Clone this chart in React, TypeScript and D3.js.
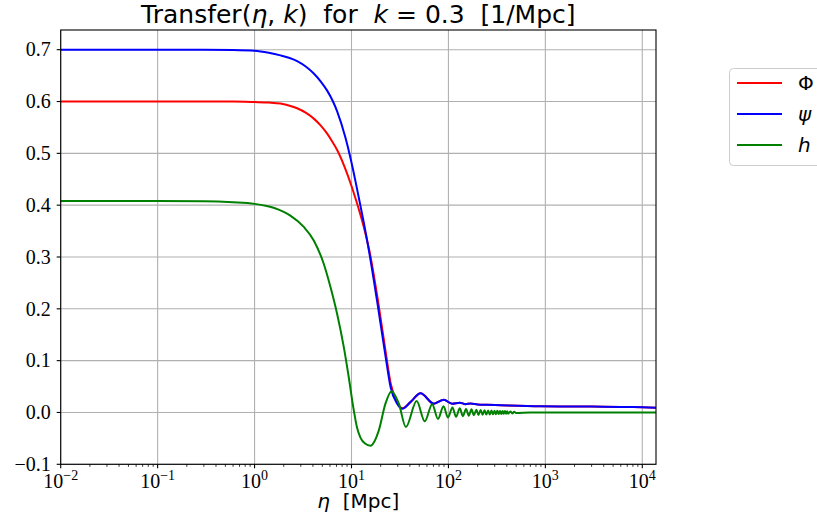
import React from 'react';
import * as d3 from 'd3';

const W = 817;
const H = 527;
const PL = 60.7, PR = 656, PT = 30, PB = 464.3;

// Data (eta in Mpc)
const phiEta = [0.01, 0.3, 0.6, 1, 1.4, 1.85, 2.3, 2.75, 3.4, 4.08, 4.8, 5.61, 6.3, 7.11, 8.4, 10, 11, 12, 13.4, 15.3, 18.9, 22.8, 25.3, 29.6, 33.4, 40.6, 51.6, 70.8, 89.6, 109, 131, 150, 170, 200, 250, 345, 895, 3000, 8000, 14000];
const phiVal = [0.6, 0.6, 0.6, 0.599, 0.598, 0.596, 0.592, 0.587, 0.578, 0.567, 0.554, 0.538, 0.5235, 0.5065, 0.476, 0.437, 0.413, 0.39, 0.358, 0.312, 0.212, 0.11, 0.057, 0.02, 0.008, 0.02, 0.037, 0.017, 0.0245, 0.017, 0.019, 0.016, 0.0175, 0.0155, 0.0148, 0.014, 0.012, 0.0113, 0.0105, 0.009];

const psiEta = [0.01, 0.3, 0.6, 1, 1.4, 1.85, 2.3, 2.75, 3.4, 4.08, 4.8, 5.61, 6.41, 7.11, 8.67, 9.76, 11, 12.0, 13.4, 15.3, 18.9, 22.8, 25.3, 29.6, 33.4, 40.6, 51.6, 70.8, 89.6, 109, 131, 150, 170, 200, 250, 345, 895, 3000, 8000, 14000];
const psiVal = [0.7, 0.7, 0.6995, 0.698, 0.694, 0.689, 0.684, 0.678, 0.667, 0.654, 0.639, 0.621, 0.601, 0.581, 0.53, 0.491, 0.446, 0.411, 0.366, 0.307, 0.2, 0.1, 0.049, 0.017, 0.007, 0.02, 0.037, 0.017, 0.0245, 0.017, 0.019, 0.016, 0.0175, 0.0155, 0.0148, 0.014, 0.012, 0.0113, 0.0105, 0.009];

const hEta = [0.01, 0.1, 0.3, 0.6, 1, 1.3, 1.57, 2.0, 2.34, 3.22, 4.08, 5.17, 6.07, 7.11, 8.33, 9.37, 10.56, 11.4, 12.4, 13.8, 15.7, 19.1, 22.4, 25.9, 30.8, 36.4, 47, 57, 68, 78, 89, 99, 110, 120, 131, 141, 152, 162, 173, 183, 194, 204, 215, 225, 236, 246, 257, 267, 278, 288, 299, 309, 320, 330, 341, 351, 362, 372, 383, 393, 404, 414, 435, 456, 477, 498, 700, 1000, 14000];
const hVal = [0.408, 0.408, 0.4075, 0.4055, 0.4025, 0.399, 0.395, 0.387, 0.38, 0.358, 0.332, 0.287, 0.242, 0.19, 0.126, 0.068, 0.004, -0.029, -0.049, -0.06, -0.064, -0.035, 0.017, 0.041, 0.017, -0.028, 0.022, -0.017, 0.016, -0.0125, 0.012, -0.0098, 0.0095, -0.0083, 0.008, -0.0071, 0.0069, -0.0062, 0.006, -0.0055, 0.0054, -0.005, 0.0049, -0.0045, 0.0044, -0.0041, 0.004, -0.0038, 0.0037, -0.0035, 0.0035, -0.0033, 0.0032, -0.0031, 0.003, -0.0029, 0.0028, -0.0027, 0.0027, -0.0026, 0.0025, -0.0024, 0.0021, -0.0018, 0.0014, -0.001, 0, 0, 0];

const yTicks = [-0.1, 0.0, 0.1, 0.2, 0.3, 0.4, 0.5, 0.6, 0.7];
const yTickLabels = ['\u22120.1', '0.0', '0.1', '0.2', '0.3', '0.4', '0.5', '0.6', '0.7'];
const xTickExps = [-2, -1, 0, 1, 2, 3, 4];

const seriesNames = ['\u03A6', '\u03C8', 'h'];
const seriesColors = ['#ff0000', '#0000ff', '#008000'];

const SANS = 'DejaVu Sans';
const SERIF = 'Liberation Serif';

export default function App() {
  const x = d3.scaleLog().domain([0.01, 13850]).range([PL, PR]);
  const y = d3.scaleLinear().domain([-0.1, 0.738]).range([PB, PT]);

  const mk = (es: number[], vs: number[]) =>
    d3.line<number>()
      .x((_, i) => x(es[i]))
      .y((v) => y(v))
      .curve(d3.curveMonotoneX)(vs) as string;

  const paths = [mk(phiEta, phiVal), mk(psiEta, psiVal), mk(hEta, hVal)];

  const minor: number[] = [];
  for (let e = -2; e <= 4; e++) {
    for (let m = 2; m <= 9; m++) {
      const v = m * Math.pow(10, e);
      if (v <= 13850) minor.push(v);
    }
  }

  return (
    <svg width={W} height={H} style={{ position: 'absolute', left: 0, top: 0, background: '#fff' }}>
      <defs>
        <clipPath id="plotclip">
          <rect x={PL} y={PT} width={PR - PL} height={PB - PT} />
        </clipPath>
      </defs>
      <rect x={0} y={0} width={W} height={H} fill="#fff" />
      {/* grid */}
      {xTickExps.map((e) => (
        <line key={'gx' + e} x1={x(Math.pow(10, e))} x2={x(Math.pow(10, e))} y1={PT} y2={PB} stroke="#b0b0b0" strokeWidth={1.1} />
      ))}
      {yTicks.map((t) => (
        <line key={'gy' + t} x1={PL} x2={PR} y1={y(t)} y2={y(t)} stroke="#b0b0b0" strokeWidth={1.1} />
      ))}
      {/* curves */}
      <g clipPath="url(#plotclip)" fill="none" strokeWidth={2}>
        {paths.map((d, i) => (
          <path key={i} d={d} stroke={seriesColors[i]} strokeLinejoin="round" />
        ))}
      </g>
      {/* spines */}
      <rect x={PL} y={PT} width={PR - PL} height={PB - PT} fill="none" stroke="#000" strokeWidth={1.1} />
      {/* y ticks */}
      {yTicks.map((t, i) => (
        <g key={'yt' + t}>
          <line x1={PL - 4} x2={PL} y1={y(t)} y2={y(t)} stroke="#000" strokeWidth={1.1} />
          <text x={PL - 10} y={y(t)} dy="0.34em" textAnchor="end" fontFamily={SERIF} fontSize={20}>
            {yTickLabels[i]}
          </text>
        </g>
      ))}
      {/* x ticks */}
      {minor.map((v) => (
        <line key={'mx' + v} x1={x(v)} x2={x(v)} y1={PB} y2={PB + 2.5} stroke="#000" strokeWidth={0.8} />
      ))}
      {xTickExps.map((e) => (
        <g key={'xt' + e}>
          <line x1={x(Math.pow(10, e))} x2={x(Math.pow(10, e))} y1={PB} y2={PB + 4} stroke="#000" strokeWidth={1.1} />
          <text x={x(Math.pow(10, e))} y={488.3} textAnchor="middle" fontFamily={SERIF} fontSize={20}>
            10
            <tspan dy={-8.5} fontSize={14}>{e < 0 ? '\u2212' + Math.abs(e) : String(e)}</tspan>
          </text>
        </g>
      ))}
      {/* title */}
      <text x={(PL + PR) / 2} y={22.7} textAnchor="middle" fontFamily={SANS} fontSize={25} style={{ whiteSpace: 'pre' }}>
        <tspan>Transfer(</tspan>
        <tspan fontStyle="italic">η</tspan>
        <tspan>, </tspan>
        <tspan fontStyle="italic">k</tspan>
        <tspan>)  for  </tspan>
        <tspan fontStyle="italic">k</tspan>
        <tspan> = 0.3  [1/Mpc]</tspan>
      </text>
      {/* x label */}
      <text x={(PL + PR) / 2} y={508} textAnchor="middle" fontFamily={SANS} fontSize={20} style={{ whiteSpace: 'pre' }}>
        <tspan fontStyle="italic">η</tspan>
        <tspan>  [Mpc]</tspan>
      </text>
      {/* legend */}
      <rect x={729.5} y={68.5} width={110} height={97} rx={4} ry={4} fill="#fff" fillOpacity={0.8} stroke="#cccccc" strokeWidth={1} />
      {seriesNames.map((n, i) => {
        const ly = 83 + i * 31;
        return (
          <g key={'lg' + i}>
            <line x1={737} x2={782} y1={ly} y2={ly} stroke={seriesColors[i]} strokeWidth={2} />
            <text x={798} y={ly} dy="0.36em" fontFamily={SANS} fontSize={20} fontStyle={i === 0 ? 'normal' : 'italic'}>
              {n}
            </text>
          </g>
        );
      })}
    </svg>
  );
}
